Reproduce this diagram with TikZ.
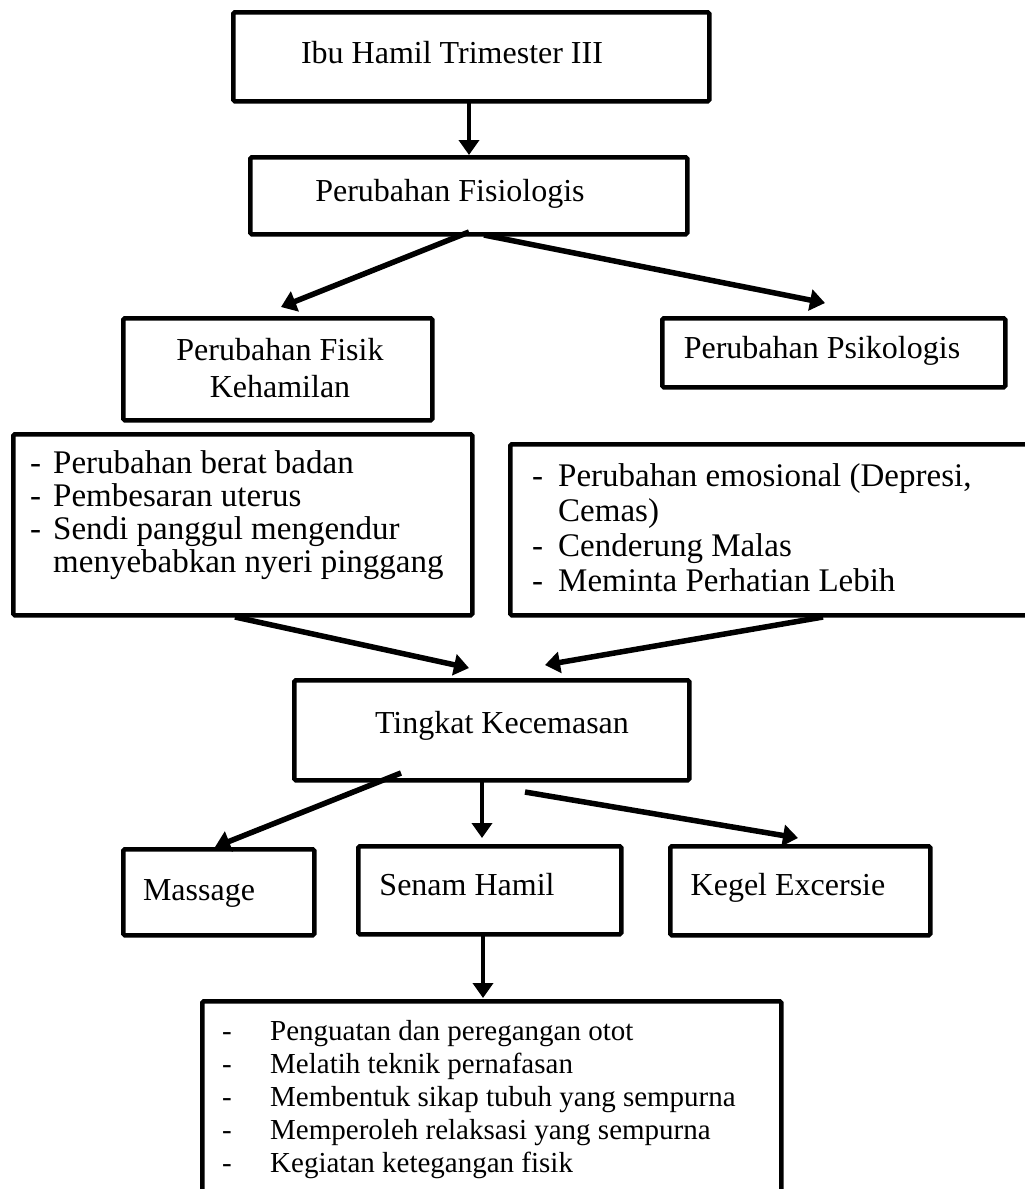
\documentclass[tikz,border=0pt]{standalone}
\usepackage{fontspec}
\setmainfont{Liberation Serif}
\usetikzlibrary{arrows.meta}
\begin{document}
\begin{tikzpicture}[x=1pt,y=-1pt,
  box/.style={draw,line width=4.5pt,rounded corners=1.5pt,inner sep=0pt,anchor=north west},
  txt/.style={inner sep=0pt,font=\fontsize{32}{36}\selectfont},
  ltxt/.style={inner sep=0pt,anchor=base west,font=\fontsize{33}{37}\selectfont},
  rtxt/.style={inner sep=0pt,anchor=base west,font=\fontsize{33}{37}\selectfont},
  stxt/.style={inner sep=0pt,anchor=base west,font=\fontsize{29}{33}\selectfont},
  arr/.style={line width=5.5pt,-{Triangle[length=15pt,width=21pt]}},
  varr/.style={line width=4.5pt,-{Triangle[length=15pt,width=20pt]}}]
\useasboundingbox (0,0) rectangle (1025,1189);
\fill[white] (0,0) rectangle (1025,1189);
\clip (0,0) rectangle (1025,1189);
% boxes
\node[box,minimum width=476pt,minimum height=89pt] (b1) at (231,10) {};
\node[box,minimum width=437pt,minimum height=77pt] (b2) at (248,155) {};
\node[box,minimum width=309pt,minimum height=102pt] (b3) at (121,316) {};
\node[box,minimum width=343pt,minimum height=69pt] (b4) at (660,316) {};
\node[box,minimum width=459pt,minimum height=181pt] (b5) at (11,432) {};
\node[box,minimum width=530pt,minimum height=171pt] (b6) at (508,442) {};
\node[box,minimum width=395pt,minimum height=100pt] (b7) at (292,678) {};
\node[box,minimum width=191pt,minimum height=86pt] (b8) at (121,847) {};
\node[box,minimum width=263pt,minimum height=88pt] (b9) at (356,844) {};
\node[box,minimum width=260pt,minimum height=89pt] (b10) at (668,844) {};
\node[box,minimum width=579pt,minimum height=220pt] (b11) at (200,999) {};
% texts
\node[txt,anchor=base] (t1) at (452,63) {Ibu Hamil Trimester III};
\node[txt,anchor=base] (t2) at (450,201) {Perubahan Fisiologis};
\node[txt,anchor=base] (t3a) at (280,360) {Perubahan Fisik};
\node[txt,anchor=base] (t3b) at (280,397) {Kehamilan};
\node[txt,anchor=base] (t4) at (822,358) {Perubahan Psikologis};
\node[ltxt] (d5a) at (30,473) {-};
\node[ltxt] (t5a) at (53,473) {Perubahan berat badan};
\node[ltxt] (d5b) at (30,506) {-};
\node[ltxt] (t5b) at (53,506) {Pembesaran uterus};
\node[ltxt] (d5c) at (30,539) {-};
\node[ltxt] (t5c) at (53,539) {Sendi panggul mengendur};
\node[ltxt] (t5d) at (53,572) {menyebabkan nyeri pinggang};
\node[rtxt] (d6a) at (532,486) {-};
\node[rtxt] (t6a) at (558,486) {Perubahan emosional (Depresi,};
\node[rtxt] (t6b) at (558,521) {Cemas)};
\node[rtxt] (d6c) at (532,556) {-};
\node[rtxt] (t6c) at (558,556) {Cenderung Malas};
\node[rtxt] (d6d) at (532,591) {-};
\node[rtxt] (t6d) at (558,591) {Meminta Perhatian Lebih};
\node[txt,anchor=base] (t7) at (502,733) {Tingkat Kecemasan};
\node[txt,anchor=base] (t8) at (199,900) {Massage};
\node[txt,anchor=base] (t9) at (467,895) {Senam Hamil};
\node[txt,anchor=base] (t10) at (788,895) {Kegel Excersie};
\node[stxt] (d11a) at (222,1040) {-};
\node[stxt] (t11a) at (270,1040) {Penguatan dan peregangan otot};
\node[stxt] (d11b) at (222,1073) {-};
\node[stxt] (t11b) at (270,1073) {Melatih teknik pernafasan};
\node[stxt] (d11c) at (222,1106) {-};
\node[stxt] (t11c) at (270,1106) {Membentuk sikap tubuh yang sempurna};
\node[stxt] (d11d) at (222,1139) {-};
\node[stxt] (t11d) at (270,1139) {Memperoleh relaksasi yang sempurna};
\node[stxt] (d11e) at (222,1172) {-};
\node[stxt] (t11e) at (270,1172) {Kegiatan ketegangan fisik};
% arrow endpoints
\coordinate (a12s) at (469,99);
\coordinate (a12e) at (469,155);
\coordinate (a23s) at (469,232);
\coordinate (a23e) at (281,307);
\coordinate (a24s) at (484,235);
\coordinate (a24e) at (825,303);
\coordinate (a57s) at (235,617);
\coordinate (a57e) at (469,668);
\coordinate (a67s) at (823,617);
\coordinate (a67e) at (545,665);
\coordinate (a78s) at (401,773);
\coordinate (a78e) at (215,847);
\coordinate (a79s) at (482,780);
\coordinate (a79e) at (482,838);
\coordinate (a710s) at (525,792);
\coordinate (a710e) at (798,838);
\coordinate (a911s) at (483,932);
\coordinate (a911e) at (483,998);
% connectors
\draw[varr] (a12s) -- (a12e);
\draw[arr] (a23s) -- (a23e);
\draw[arr] (a24s) -- (a24e);
\draw[arr] (a57s) -- (a57e);
\draw[arr] (a67s) -- (a67e);
\draw[arr] (a78s) -- (a78e);
\draw[varr] (a79s) -- (a79e);
\draw[arr] (a710s) -- (a710e);
\draw[varr] (a911s) -- (a911e);
\end{tikzpicture}
\end{document}
